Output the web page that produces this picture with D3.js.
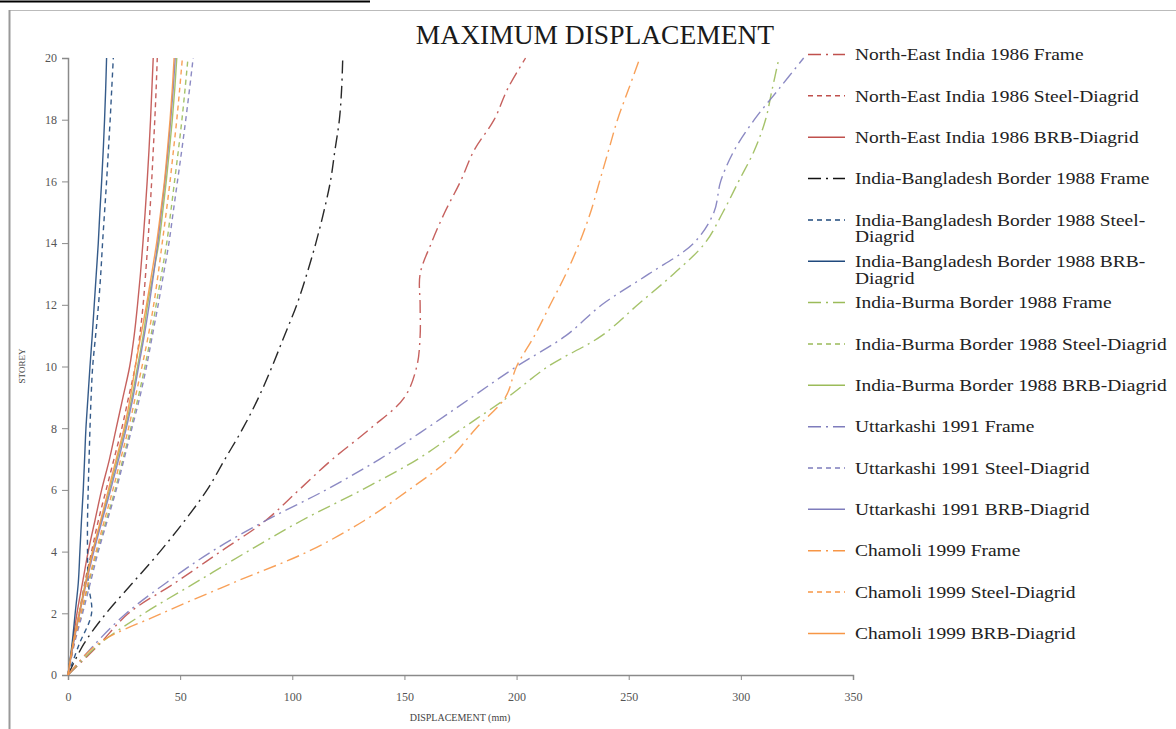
<!DOCTYPE html>
<html>
<head>
<meta charset="utf-8">
<script src="https://cdn.jsdelivr.net/npm/d3@7"></script>
<style>
  html, body { margin: 0; padding: 0; background: #fff; }
  svg { display: block; }
  text { font-family: "Liberation Serif", "DejaVu Serif", serif; }
</style>
</head>
<body>
<svg id="chart" width="1176" height="729"></svg>
<script>
// Storey levels (y) and maximum displacement in mm (x) for each record / system
const storeys = [0,1,2,3,4,5,6,7,8,9,10,11,12,13,14,15,16,17,18,19,20];

const neFrame = [0,14,27,48,68,88,103,118,135,150,155.5,157,157,157,162,168,175,181,190,196,204];
const neSteel = [0,2.5,5,7.5,10.5,13.5,17,20.5,24,27,30,32,33.5,34.6,35.6,36.5,37.3,38,38.7,39.3,39.8];
const neBrb   = [0,2,4,6.5,9,12,15,18.5,21.5,24.5,27.5,29.5,31,32.3,33.4,34.4,35.3,36.1,36.8,37.4,38];

const ibFrame = [0,7,17,29,41,52,62,70,78,85,91,96.5,102,106.5,110.5,114,117,119,121,122,122.5];
const ibSteel = [0,5,10.5,9,8.7,8.7,9,9.4,9.8,10.3,11,12.3,13.6,14.6,15.4,16.3,17.2,18,18.8,19.5,20.2];
const ibBrb   = [0,1.8,3.2,4.6,5.3,6,6.8,7.4,8,8.9,9.8,10.8,11.7,12.6,13.5,14.2,15,15.7,16.3,16.8,17.2];

const bmFrame = [0,14,34,57,80,104,131,156,176,196,214,238,254,270,284,292,299,306,311,314,317];
const bmSteel = [0,2.6,6,9.3,13,17,21,24.5,28,31.3,34.3,37,39.3,41.7,44,45.8,47.5,49.2,50.8,52.2,53.5];
const bmBrb   = [0,2.2,5,7.8,11,14.8,18.5,22,25.5,28.5,31,33.5,35.5,38,40.5,42.2,43.8,45.2,46.5,47.6,48.5];

const ukFrame = [0,12,26,44,64,88,115,139,160,180,200,222,238,259,279,288,291,297,306,317,328];
const ukSteel = [0,2.8,6.5,10,13.5,17.5,21.5,25,28.5,32,35,37.6,40.2,42.6,45,46.9,48.8,50.7,52.5,54.2,55.8];
const ukBrb   = [0,2.4,5.2,8.2,11.5,15.2,19,22.6,26,29,31.5,34,36.2,38.2,40,41.6,43.2,44.6,45.8,46.9,47.8];

const chFrame = [0,13,42,74,107,132,152,170,182,195,200,208,215,222,228,233,237,241,245,250,255];
const chSteel = [0,2.5,5.8,9,12.5,16.2,20,23.5,27,30,33,35.8,38.2,40.2,42,43.8,45.5,47,48.5,49.8,51];
const chBrb   = [0,2.2,5,8,11,14.5,18,21.5,25,27.8,30,32.5,35,37.3,39.5,41.3,43,44.3,45.5,46.5,47.3];

const seriesNames = [
  "North-East India 1986 Frame",
  "North-East India 1986 Steel-Diagrid",
  "North-East India 1986 BRB-Diagrid",
  "India-Bangladesh Border 1988 Frame",
  "India-Bangladesh Border 1988 Steel-Diagrid",
  "India-Bangladesh Border 1988 BRB-Diagrid",
  "India-Burma Border 1988 Frame",
  "India-Burma Border 1988 Steel-Diagrid",
  "India-Burma Border 1988 BRB-Diagrid",
  "Uttarkashi 1991 Frame",
  "Uttarkashi 1991 Steel-Diagrid",
  "Uttarkashi 1991 BRB-Diagrid",
  "Chamoli 1999 Frame",
  "Chamoli 1999 Steel-Diagrid",
  "Chamoli 1999 BRB-Diagrid"
];
const seriesValues = [
  neFrame, neSteel, neBrb,
  ibFrame, ibSteel, ibBrb,
  bmFrame, bmSteel, bmBrb,
  ukFrame, ukSteel, ukBrb,
  chFrame, chSteel, chBrb
];

const xTicks = [0,50,100,150,200,250,300,350];
const yTicks = [0,2,4,6,8,10,12,14,16,18,20];

// Styling per earthquake record (colour) and per structural system (dash)
const recordColors = ["#C0504D", "#1F497D", "#9BBB59", "#7E7CBC", "#F79646"];
const frameColorOverride = { 1: "#111111" };
const systemDash = ["13,5,2,5", "5,4", null];

const svg = d3.select("#chart");
const W = 1176, H = 729;

// page frame
svg.append("rect").attr("x", 0).attr("y", 0).attr("width", W).attr("height", H).attr("fill", "#fff");
svg.append("line").attr("x1", 0).attr("x2", 370).attr("y1", 1.5).attr("y2", 1.5)
  .attr("stroke", "#000").attr("stroke-width", 2);
svg.append("line").attr("x1", 9.5).attr("x2", W).attr("y1", 10.5).attr("y2", 10.5)
  .attr("stroke", "#bbb").attr("stroke-width", 1);
svg.append("line").attr("x1", 9.5).attr("x2", 9.5).attr("y1", 10).attr("y2", H)
  .attr("stroke", "#999").attr("stroke-width", 2);

// plot area
const x = d3.scaleLinear().domain([0, 350]).range([68, 853]);
const y = d3.scaleLinear().domain([0, 20]).range([675, 58]);

const xAxis = svg.append("g").attr("transform", `translate(0,${y(0)})`)
  .call(d3.axisBottom(x).tickValues(xTicks).tickSize(5).tickPadding(12).tickFormat(d3.format("d")));
const yAxis = svg.append("g").attr("transform", `translate(${x(0)},0)`)
  .call(d3.axisLeft(y).tickValues(yTicks).tickSize(6).tickPadding(5).tickFormat(d3.format("d")));

[xAxis, yAxis].forEach(g => {
  g.select(".domain").attr("stroke", "#8a8a8a").attr("stroke-width", 1.5);
  g.selectAll(".tick line").attr("stroke", "#8a8a8a");
  g.selectAll(".tick text").attr("fill", "#555").style("font-size", "12px")
    .style("font-family", "'Liberation Serif', serif");
});

// series lines
const line = d3.line()
  .x(d => x(d.v))
  .y(d => y(d.s))
  .curve(d3.curveCatmullRom.alpha(0.5));

function styleOf(i) {
  const rec = Math.floor(i / 3), sys = i % 3;
  let color = recordColors[rec];
  if (sys === 0 && frameColorOverride[rec]) color = frameColorOverride[rec];
  return { color, dash: systemDash[sys] };
}

const plot = svg.append("g");
seriesValues.forEach((vals, i) => {
  const st = styleOf(i);
  const pts = vals.map((v, k) => ({ v, s: storeys[k] }));
  plot.append("path")
    .datum(pts)
    .attr("d", line)
    .attr("fill", "none")
    .attr("stroke", st.color)
    .attr("stroke-width", 1.4)
    .attr("stroke-opacity", 0.9)
    .attr("stroke-dasharray", st.dash);
});

// title and axis labels
svg.append("text").attr("x", 595).attr("y", 44).attr("text-anchor", "middle")
  .style("font-size", "27.5px").attr("fill", "#1a1a1a").text("MAXIMUM  DISPLACEMENT");
svg.append("text").attr("transform", "translate(25,366) rotate(-90)").attr("text-anchor", "middle")
  .style("font-size", "9px").attr("fill", "#444").text("STOREY");
svg.append("text").attr("x", 460).attr("y", 721).attr("text-anchor", "middle")
  .style("font-size", "10px").attr("fill", "#444").text("DISPLACEMENT (mm)");

// legend
const legend = svg.append("g");
const legTop = 54.5, legStep = 41.35;
seriesNames.forEach((name, i) => {
  const st = styleOf(i);
  const yy = legTop + i * legStep;
  legend.append("line").attr("x1", 808).attr("x2", 845).attr("y1", yy).attr("y2", yy)
    .attr("stroke", st.color).attr("stroke-width", 1.5)
    .attr("stroke-dasharray", st.dash);
  let lines = [name];
  if (name.length > 38) {
    const cut = name.lastIndexOf("-") + 1;
    lines = [name.slice(0, cut), name.slice(cut)];
  }
  lines.forEach((t, j) => {
    legend.append("text")
      .attr("transform", `translate(855,${yy + j * 16.5}) scale(1.18,1)`)
      .attr("dy", "0.35em")
      .style("font-size", "16.5px").attr("fill", "#222").text(t);
  });
});
</script>
</body>
</html>
